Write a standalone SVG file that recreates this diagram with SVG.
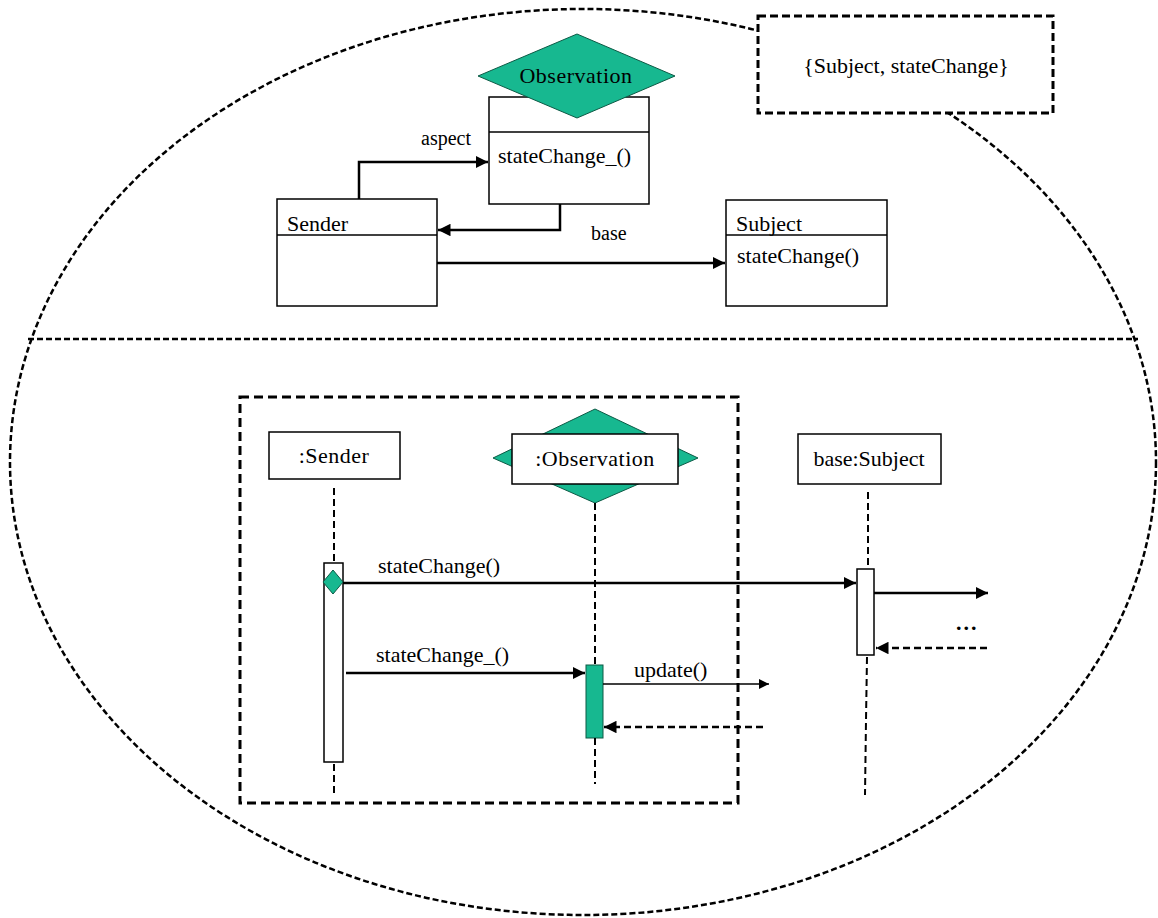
<svg xmlns="http://www.w3.org/2000/svg" width="1158" height="918" viewBox="0 0 1158 918">
  <style>
    text { font-family: "Liberation Serif", "Times New Roman", serif; font-size: 22px; fill: #000; }
    .lbl { font-size: 20px; }
    .box { fill: #fff; stroke: #000; stroke-width: 1.5; }
    .green { fill: #17b890; stroke: #0c5a45; stroke-width: 1; }
    .line { fill: none; stroke: #000; stroke-width: 2.5; }
    .thin { fill: none; stroke: #000; stroke-width: 1.5; }
    .ret { fill: none; stroke: #000; stroke-width: 2.5; stroke-dasharray: 7 4; }
    .life { fill: none; stroke: #000; stroke-width: 2; stroke-dasharray: 7 4; }
    .outline { fill: none; stroke: #000; stroke-width: 2.5; stroke-dasharray: 6 3; }
    .frame { fill: none; stroke: #000; stroke-width: 3; stroke-dasharray: 9 5; }
  </style>
  <defs>
    <marker id="arrow" viewBox="0 0 10 10" refX="10" refY="5" markerWidth="5" markerHeight="5" orient="auto-start-reverse" markerUnits="strokeWidth">
      <path d="M0,0 L10,5 L0,10 Z" fill="#000"/>
    </marker>
    <marker id="arrowSm" viewBox="0 0 10 10" refX="10" refY="5" markerWidth="7" markerHeight="7" orient="auto" markerUnits="strokeWidth">
      <path d="M0,0 L10,5 L0,10 Z" fill="#000"/>
    </marker>
  </defs>

  <rect width="1158" height="918" fill="#fff"/>

  <!-- enclosing boundary and the divider between structure and behaviour -->
  <g id="boundary">
    <ellipse class="outline" cx="583" cy="462" rx="573" ry="453"/>
    <line class="outline" x1="28" y1="339" x2="1138" y2="339" stroke-dasharray="8 4"/>
  </g>

  <!-- constraint note -->
  <g id="note">
    <rect x="758" y="16" width="295" height="97" fill="#fff" stroke="#000" stroke-width="3" stroke-dasharray="8 4"/>
    <text x="906" y="73" text-anchor="middle">{Subject, stateChange}</text>
  </g>

  <!-- class diagram -->
  <g id="observation-class">
    <rect class="box" x="489" y="97" width="160" height="107"/>
    <line class="thin" x1="489" y1="132" x2="649" y2="132"/>
    <text x="498" y="163">stateChange_()</text>
    <polygon class="green" points="577,34 675,76 577,118 478,76"/>
    <text x="576" y="83" text-anchor="middle" letter-spacing="0.5">Observation</text>
  </g>

  <g id="sender-class">
    <rect class="box" x="277" y="199" width="160" height="107"/>
    <line class="thin" x1="277" y1="235" x2="437" y2="235"/>
    <text x="287" y="231">Sender</text>
  </g>

  <g id="subject-class">
    <rect class="box" x="726" y="200" width="161" height="106"/>
    <line class="thin" x1="726" y1="235" x2="887" y2="235"/>
    <text x="736" y="231">Subject</text>
    <text x="737" y="263">stateChange()</text>
  </g>

  <g id="class-connectors">
    <polyline class="line" points="359,199 359,162 488,162" marker-end="url(#arrow)"/>
    <text class="lbl" x="421" y="145">aspect</text>
    <polyline class="line" points="560,204 560,230 438,230" marker-end="url(#arrow)"/>
    <text class="lbl" x="591" y="240">base</text>
    <line class="line" x1="437" y1="263" x2="725" y2="263" marker-end="url(#arrow)"/>
  </g>

  <!-- sequence diagram -->
  <g id="aspect-frame">
    <rect class="frame" x="240" y="397" width="498" height="406"/>
  </g>

  <g id="sender-lifeline">
    <rect class="box" x="269" y="432" width="131" height="47"/>
    <text x="334" y="463" text-anchor="middle" letter-spacing="0.5">:Sender</text>
    <line class="life" x1="334" y1="488" x2="334" y2="563"/>
    <rect class="box" x="324" y="563" width="19" height="199"/>
    <line class="life" x1="334" y1="764" x2="334" y2="795"/>
    <polygon class="green" points="333,570 343,582 333,594 323,582"/>
  </g>

  <g id="observation-lifeline">
    <polygon class="green" points="595,409 698,458 595,503 493,458"/>
    <rect class="box" x="512" y="434" width="166" height="50"/>
    <text x="595" y="466" text-anchor="middle" letter-spacing="0.5">:Observation</text>
    <line class="life" x1="595" y1="503" x2="595" y2="665"/>
    <rect class="green" x="586" y="665" width="17" height="73" stroke="#000"/>
    <line class="life" x1="595" y1="738" x2="595" y2="784"/>
  </g>

  <g id="subject-lifeline">
    <rect class="box" x="798" y="434" width="143" height="50"/>
    <text x="869" y="466" text-anchor="middle">base:Subject</text>
    <line class="life" x1="868" y1="492" x2="868" y2="569"/>
    <rect class="box" x="857" y="569" width="17" height="86"/>
    <polyline class="life" points="867,657 866,720 865,795"/>
  </g>

  <g id="messages">
    <line class="line" x1="343" y1="583" x2="856" y2="583" marker-end="url(#arrow)"/>
    <text x="378" y="573">stateChange()</text>
    <line class="line" x1="346" y1="673" x2="585" y2="673" marker-end="url(#arrow)"/>
    <text x="376" y="662">stateChange_()</text>
    <line class="thin" x1="603" y1="684" x2="769" y2="684" marker-end="url(#arrowSm)"/>
    <text x="634" y="677">update()</text>
    <line class="ret" x1="763" y1="727" x2="604" y2="727" marker-end="url(#arrow)"/>
    <line class="line" x1="874" y1="593" x2="988" y2="593" marker-end="url(#arrow)"/>
    <text x="956" y="630" font-weight="bold" letter-spacing="2">...</text>
    <line class="ret" x1="987" y1="648" x2="876" y2="648" marker-end="url(#arrow)"/>
  </g>
</svg>
